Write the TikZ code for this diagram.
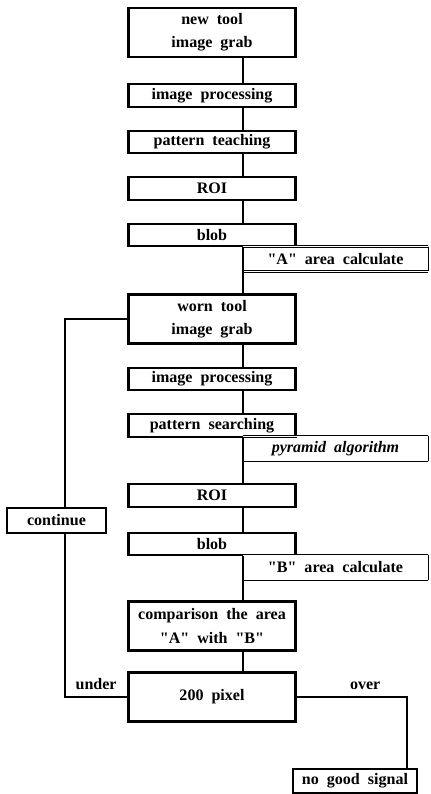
\documentclass[tikz,border=0pt]{standalone}
\usepackage{fontspec}
\setmainfont{Liberation Serif}[WordSpace=2]
\usepackage{tikz}
\usetikzlibrary{positioning}% relative placement, if needed
\tikzset{every node/.style={font=\fontsize{11.4}{16.5}\selectfont\bfseries}}
\tikzset{
  stage/.style={draw, line width=1.7pt, minimum width=4.18cm, minimum height=0.56cm,
    inner sep=0pt, align=center},
  tall/.style={minimum height=1.22cm},
  note/.style={minimum width=4.63cm, minimum height=0.6cm, inner sep=0pt},
  conn/.style={line width=1.7pt},
  dbl/.style={double, double distance=1pt, line width=0.4pt}
}
\newcommand{\qt}[1]{\textquotedbl#1\textquotedbl}

\begin{document}
\begin{tikzpicture}[x=0.025cm, y=-0.025cm]
    \useasboundingbox (0,0) rectangle (430,794);
    \coordinate (spine) at (243,0);
    \coordinate (loopx) at (65,0);
    \coordinate (overx) at (407,0);
    % reference pattern
    \node[stage, tall] (grab1) at (212,32.5) {new tool\\image grab};
    \node[stage] (proc1) at (212,95.5) {image processing};
    \node[stage] (teach) at (212,142) {pattern teaching};
    \node[stage] (roi1) at (212,188.5) {ROI};
    \node[stage] (blob1) at (212,235) {blob};
    \node[note] (areaA) at (335.5,259) {\qt{A} area calculate};
    % worn tool
    \node[stage, tall] (grab2) at (212,319) {worn tool\\image grab};
    \node[stage] (proc2) at (212,379) {image processing};
    \node[stage] (search) at (212,425.5) {pattern searching};
    \node[note] (pyram) at (335.5,448.5) {\itshape pyramid algorithm};
    \node[stage] (roi2) at (212,495.5) {ROI};
    \node[stage] (blob2) at (212,544) {blob};
    \node[note] (areaB) at (335.5,567.5) {\qt{B} area calculate};
    \node[stage, tall] (compare) at (212,626) {comparison the area\\\qt{A} with \qt{B}};
    \node[stage, tall] (pixel) at (212,697) {200 pixel};
    % side branches
    \node[stage, minimum width=2.48cm, minimum height=0.63cm] (cont) at (56.5,520.5) {continue};
    \node[stage, minimum width=3.1cm, minimum height=0.6cm] (nogood) at (355,781) {no good signal};
    \foreach \n in {areaA, pyram, areaB} {
      \draw[dbl] (\n.north west) -- (\n.north east);
      \draw[dbl] (\n.south west) -- (\n.south east);
      \draw[thin] (\n.north east) -- (\n.south east);
    }
    \foreach \a/\b in {grab1/proc1, proc1/teach, teach/roi1, roi1/blob1, blob1/grab2,
      grab2/proc2, proc2/search, search/roi2, roi2/blob2, blob2/compare, compare/pixel}
      \draw[conn] (\a.south -| spine) -- (\b.north -| spine);
    \draw[conn] (grab2.west) -| (cont.north -| loopx);
    \draw[conn] (cont.south -| loopx) |- (pixel.west) node[pos=0.75, above=1pt] {under};
    \draw[conn] (pixel.east) -| (nogood.north -| overx) node[pos=0.31, above=1pt] {over};
\end{tikzpicture}
\end{document}
